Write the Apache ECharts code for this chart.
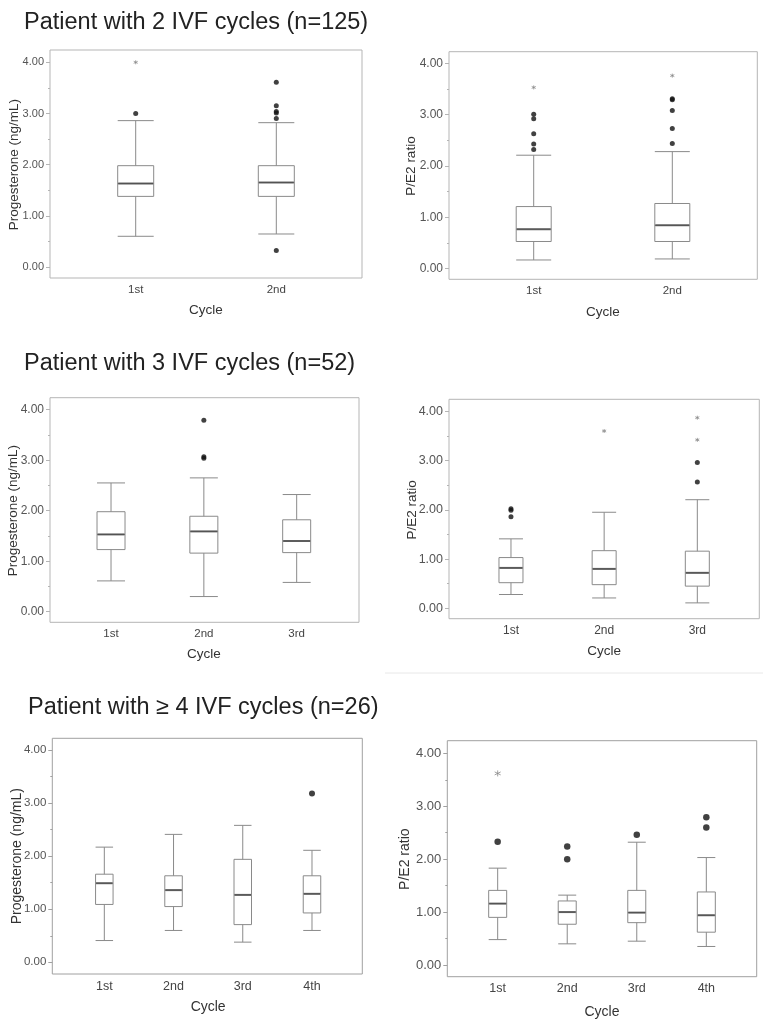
<!DOCTYPE html>
<html>
<head>
<meta charset="utf-8">
<title>Progesterone and P/E2 ratio by IVF cycle</title>
<script src="https://cdn.jsdelivr.net/npm/echarts@6.0.0/dist/echarts.min.js"></script>
<style>
  html, body { margin: 0; padding: 0; background: #fff; }
  #chart { width: 763px; height: 1020px; }
</style>
</head>
<body>
<div id="chart"></div>
<script>
// categories and y ticks
const cycles2 = ["1st", "2nd"];
const cycles3 = ["1st", "2nd", "3rd"];
const cycles4 = ["1st", "2nd", "3rd", "4th"];
const yTicks = [0, 1, 2, 3, 4];

// box values: [lower whisker, Q1, median, Q3, upper whisker]
// outliers / extremes: [cycle index, value]
const prog2Box = [[0.60, 1.38, 1.63, 1.98, 2.86], [0.645, 1.38, 1.65, 1.98, 2.82]];
const prog2Outliers = [[0, 3.00], [1, 3.61], [1, 3.15], [1, 3.04], [1, 3.01], [1, 2.90], [1, 0.32]];
const prog2Extremes = [[0, 4.00]];

const ratio2Box = [[0.17, 0.53, 0.77, 1.21, 2.21], [0.19, 0.53, 0.845, 1.27, 2.28]];
const ratio2Outliers = [[0, 3.01], [0, 2.92], [0, 2.63], [0, 2.43], [0, 2.32], [1, 3.31], [1, 3.29], [1, 3.08], [1, 2.73], [1, 2.44]];
const ratio2Extremes = [[0, 3.53], [1, 3.76]];

const prog3Box = [[0.61, 1.23, 1.53, 1.98, 2.55], [0.30, 1.16, 1.59, 1.89, 2.65], [0.58, 1.17, 1.40, 1.82, 2.32]];
const prog3Outliers = [[1, 3.79], [1, 3.07], [1, 3.04]];
const prog3Extremes = [];

const ratio3Box = [[0.28, 0.52, 0.82, 1.03, 1.41], [0.21, 0.48, 0.80, 1.17, 1.95], [0.11, 0.45, 0.72, 1.16, 2.205]];
const ratio3Outliers = [[0, 2.02], [0, 1.99], [0, 1.86], [2, 2.96], [2, 2.565]];
const ratio3Extremes = [[1, 3.60], [2, 3.87], [2, 3.42]];

const prog4Box = [[0.41, 1.09, 1.49, 1.66, 2.17], [0.60, 1.05, 1.36, 1.63, 2.41], [0.38, 0.71, 1.27, 1.94, 2.58], [0.60, 0.93, 1.29, 1.63, 2.11]];
const prog4Outliers = [[3, 3.18]];
const prog4Extremes = [];

const ratio4Box = [[0.48, 0.90, 1.16, 1.41, 1.83], [0.40, 0.77, 1.00, 1.21, 1.32], [0.45, 0.80, 0.99, 1.41, 2.32], [0.35, 0.62, 0.94, 1.38, 2.03]];
const ratio4Outliers = [[0, 2.33], [1, 2.24], [1, 2.00], [2, 2.46], [3, 2.79], [3, 2.60]];
const ratio4Extremes = [[0, 3.62]];

const titles = [
  "Patient with 2 IVF cycles (n=125)",
  "Patient with 3 IVF cycles (n=52)",
  "Patient with \u2265 4 IVF cycles (n=26)"
];

// layout: frame = plot border [l, t, r, b], inner = category band area from y=0 to y=4
const W = 763, H = 1020;
const panels = [
  { cats: cycles2, box: prog2Box, out: prog2Outliers, ext: prog2Extremes, yName: "Progesterone (ng/mL)",
    frame: [50, 50, 362, 278], inner: [65.4, 62.3, 346.6, 267], boxW: 36, dot: 5, star: 4,
    tickFont: 11, catFont: 11.5, nameFont: 13.5, yGap: 29, xGap: 25, line: "#b5b5b5" },
  { cats: cycles2, box: ratio2Box, out: ratio2Outliers, ext: ratio2Extremes, yName: "P/E2 ratio",
    frame: [449, 51.7, 757.3, 279.3], inner: [464.4, 63.3, 741.6, 268.7], boxW: 35, dot: 5, star: 4,
    tickFont: 12, catFont: 11.5, nameFont: 13.5, yGap: 31, xGap: 26, line: "#b5b5b5" },
  { cats: cycles3, box: prog3Box, out: prog3Outliers, ext: prog3Extremes, yName: "Progesterone (ng/mL)",
    frame: [50, 397.7, 359, 622.3], inner: [64.6, 409.7, 343.1, 611.7], boxW: 28, dot: 5, star: 4,
    tickFont: 12, catFont: 11.5, nameFont: 13.5, yGap: 30, xGap: 25, line: "#b5b5b5" },
  { cats: cycles3, box: ratio3Box, out: ratio3Outliers, ext: ratio3Extremes, yName: "P/E2 ratio",
    frame: [449, 399.3, 759.3, 618.7], inner: [464.4, 411.3, 743.9, 608.3], boxW: 24, dot: 5, star: 4,
    tickFont: 12.5, catFont: 12, nameFont: 13.5, yGap: 30, xGap: 26, line: "#b5b5b5" },
  { cats: cycles4, box: prog4Box, out: prog4Outliers, ext: prog4Extremes, yName: "Progesterone (ng/mL)",
    frame: [52.3, 738.3, 362.3, 974], inner: [69.7, 750, 346.6, 962.3], boxW: 17.5, dot: 6, star: 5,
    tickFont: 11.5, catFont: 12.5, nameFont: 14, yGap: 28, xGap: 26, line: "#a0a0a0" },
  { cats: cycles4, box: ratio4Box, out: ratio4Outliers, ext: ratio4Extremes, yName: "P/E2 ratio",
    frame: [447.3, 740.7, 756.7, 976.7], inner: [462.9, 753.3, 741.1, 965.7], boxW: 18, dot: 6.5, star: 6,
    tickFont: 13, catFont: 12.5, nameFont: 14, yGap: 35, xGap: 29, line: "#a0a0a0" }
];

const asterisk = "path://M5 0L5 10M0.67 2.5L9.33 7.5M0.67 7.5L9.33 2.5";

const grid = [];
const xAxis = [];
const yAxis = [];
const series = [];

panels.forEach((p, i) => {
  const f = p.frame, n = p.inner;
  const gFrame = 2 * i, gInner = 2 * i + 1;

  grid.push({
    left: f[0], top: f[1], right: W - f[2], bottom: H - f[3],
    show: true, borderColor: p.line, borderWidth: 1, backgroundColor: "transparent"
  });
  grid.push({
    left: n[0], top: n[1], right: W - n[2], bottom: H - n[3], show: false
  });

  xAxis.push({ gridIndex: gFrame, type: "value", show: false });
  yAxis.push({ gridIndex: gFrame, type: "value", show: false });

  xAxis.push({
    gridIndex: gInner,
    type: "category",
    data: p.cats,
    offset: f[3] - n[3],
    axisLine: { show: false },
    axisTick: { alignWithLabel: true, length: 4, lineStyle: { color: p.line } },
    axisLabel: { margin: 6, fontSize: p.catFont, color: "#444" },
    name: "Cycle",
    nameLocation: "middle",
    nameGap: p.xGap,
    nameMoveOverlap: false,
    nameTextStyle: { fontSize: p.nameFont, color: "#333" }
  });
  yAxis.push({
    gridIndex: gInner,
    type: "value",
    min: yTicks[0],
    max: yTicks[yTicks.length - 1],
    interval: yTicks[1] - yTicks[0],
    offset: n[0] - f[0],
    axisLine: { show: false },
    axisTick: { show: true, length: 4, lineStyle: { color: p.line } },
    minorTick: { show: true, splitNumber: 2, length: 2, lineStyle: { color: p.line } },
    splitLine: { show: false },
    axisLabel: { margin: 6, fontSize: p.tickFont, color: "#555", formatter: (v) => v.toFixed(2) },
    name: p.yName,
    nameLocation: "middle",
    nameGap: p.yGap,
    nameMoveOverlap: false,
    nameTextStyle: { fontSize: p.nameFont, color: "#333" }
  });

  series.push({
    type: "boxplot",
    xAxisIndex: gInner,
    yAxisIndex: gInner,
    data: p.box,
    boxWidth: [p.boxW, p.boxW],
    silent: true,
    itemStyle: { color: "#fff", borderColor: "#8a8a8a", borderWidth: 1 },
    emphasis: { disabled: true }
  });
  series.push({
    type: "scatter",
    xAxisIndex: gInner,
    yAxisIndex: gInner,
    data: p.box.map((d, k) => [k, d[2]]),
    symbol: "rect",
    symbolSize: [p.boxW - 1, 2],
    silent: true,
    z: 3,
    itemStyle: { color: "#444" }
  });
  series.push({
    type: "scatter",
    xAxisIndex: gInner,
    yAxisIndex: gInner,
    data: p.out,
    symbol: "circle",
    symbolSize: p.dot,
    silent: true,
    z: 4,
    itemStyle: { color: "#111" }
  });
  series.push({
    type: "scatter",
    xAxisIndex: gInner,
    yAxisIndex: gInner,
    data: p.ext,
    symbol: asterisk,
    symbolSize: p.star,
    silent: true,
    z: 4,
    itemStyle: { color: "rgba(0,0,0,0)", borderColor: "#8a8a8a", borderWidth: 1 }
  });
});

const chart = echarts.init(document.getElementById("chart"), null, { renderer: "canvas" });
chart.setOption({
  animation: false,
  backgroundColor: "#fff",
  textStyle: { fontFamily: "Liberation Sans, Arial, sans-serif" },
  title: [
    { text: titles[0], left: 24, top: 11, padding: 0, textStyle: { fontSize: 23.5, fontWeight: "normal", color: "#222" } },
    { text: titles[1], left: 24, top: 352, padding: 0, textStyle: { fontSize: 23.5, fontWeight: "normal", color: "#222" } },
    { text: titles[2], left: 28, top: 696, padding: 0, textStyle: { fontSize: 23.5, fontWeight: "normal", color: "#222" } }
  ],
  graphic: [
    { type: "line", shape: { x1: 385, y1: 673, x2: 763, y2: 673 }, style: { stroke: "#e8e8e8", lineWidth: 1 } }
  ],
  grid: grid,
  xAxis: xAxis,
  yAxis: yAxis,
  series: series
});
</script>
</body>
</html>
